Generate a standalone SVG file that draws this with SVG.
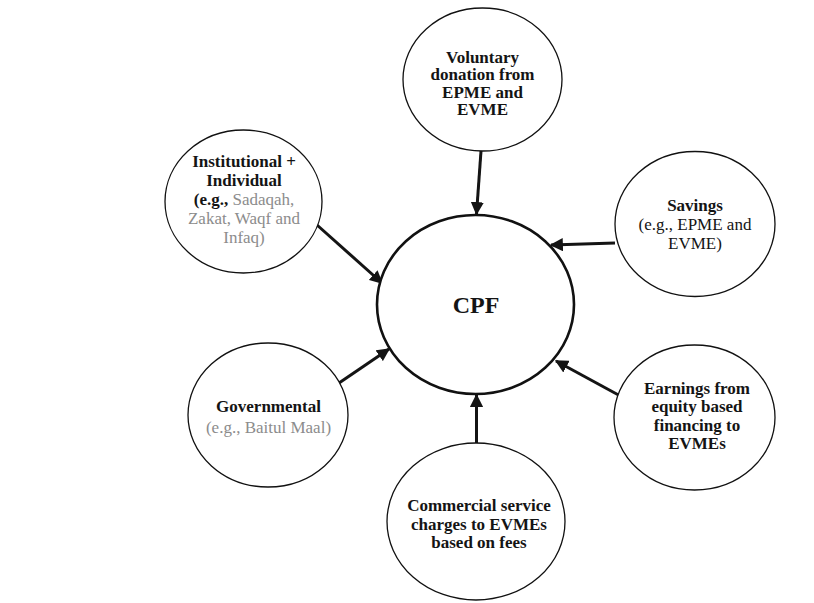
<svg xmlns="http://www.w3.org/2000/svg" width="814" height="603" viewBox="0 0 814 603">
  <style>
    .node { fill: #ffffff; stroke: #111111; stroke-width: 1.3; }
    .hub { fill: #ffffff; stroke: #111111; stroke-width: 2.6; }
    text { font-family: "Liberation Serif", "Times New Roman", serif; font-size: 17px; fill: #141414; text-anchor: middle; }
    .b { font-weight: bold; }
    .g { fill: #8c8c8c; }
    .big { font-size: 24px; font-weight: bold; }
    .edge { stroke: #141414; stroke-width: 3; fill: none; marker-end: url(#head); }
  </style>
  <defs>
    <marker id="head" viewBox="0 0 10 10" refX="9" refY="5" markerWidth="4.4" markerHeight="4.4" markerUnits="strokeWidth" orient="auto">
      <path d="M0,0 L10,5 L0,10 Z" fill="#141414"/>
    </marker>
  </defs>
  <rect width="814" height="603" fill="#ffffff"/>

  <!-- connectors -->
  <g id="connectors">
    <line class="edge" x1="481" y1="151" x2="476.5" y2="214"/>
    <line class="edge" x1="317" y1="225" x2="382" y2="283"/>
    <line class="edge" x1="615" y1="243" x2="551" y2="245"/>
    <line class="edge" x1="339" y1="383" x2="389" y2="349"/>
    <line class="edge" x1="624" y1="398" x2="556" y2="361"/>
    <line class="edge" x1="476.5" y1="443" x2="476.5" y2="395"/>
  </g>

  <!-- central fund -->
  <g id="cpf">
    <ellipse class="hub" cx="475.5" cy="304.5" rx="98.5" ry="89.5"/>
    <text class="big" x="476" y="313">CPF</text>
  </g>

  <g id="voluntary">
    <ellipse class="node" cx="482.5" cy="79.5" rx="79.5" ry="71.5"/>
    <text class="b" x="482.5" y="63">Voluntary</text>
    <text class="b" x="482.5" y="80">donation from</text>
    <text class="b" x="482.5" y="97.5">EPME and</text>
    <text class="b" x="482.5" y="115">EVME</text>
  </g>

  <g id="institutional">
    <ellipse class="node" cx="243.5" cy="201.5" rx="78.5" ry="71.5"/>
    <text class="b" x="244" y="167">Institutional +</text>
    <text class="b" x="244" y="186">Individual</text>
    <text x="244" y="205"><tspan class="b">(e.g.,</tspan><tspan class="g"> Sadaqah,</tspan></text>
    <text class="g" x="244" y="224">Zakat, Waqf and</text>
    <text class="g" x="244" y="243">Infaq)</text>
  </g>

  <g id="savings">
    <ellipse class="node" cx="695" cy="224" rx="80" ry="72.5"/>
    <text class="b" x="695" y="211">Savings</text>
    <text x="695" y="230">(e.g., EPME and</text>
    <text x="695" y="249">EVME)</text>
  </g>

  <g id="governmental">
    <ellipse class="node" cx="268" cy="415" rx="80" ry="72"/>
    <text class="b" x="268.5" y="412">Governmental</text>
    <text class="g" x="268.5" y="433">(e.g., Baitul Maal)</text>
  </g>

  <g id="earnings">
    <ellipse class="node" cx="694.5" cy="417.5" rx="80.5" ry="72.5"/>
    <text class="b" x="697" y="394">Earnings from</text>
    <text class="b" x="697" y="412">equity based</text>
    <text class="b" x="697" y="430.5">financing to</text>
    <text class="b" x="697" y="449">EVMEs</text>
  </g>

  <g id="commercial">
    <ellipse class="node" cx="476" cy="521.5" rx="89" ry="78.5"/>
    <text class="b" x="479" y="511">Commercial service</text>
    <text class="b" x="479" y="530">charges to EVMEs</text>
    <text class="b" x="479" y="548">based on fees</text>
  </g>
</svg>
